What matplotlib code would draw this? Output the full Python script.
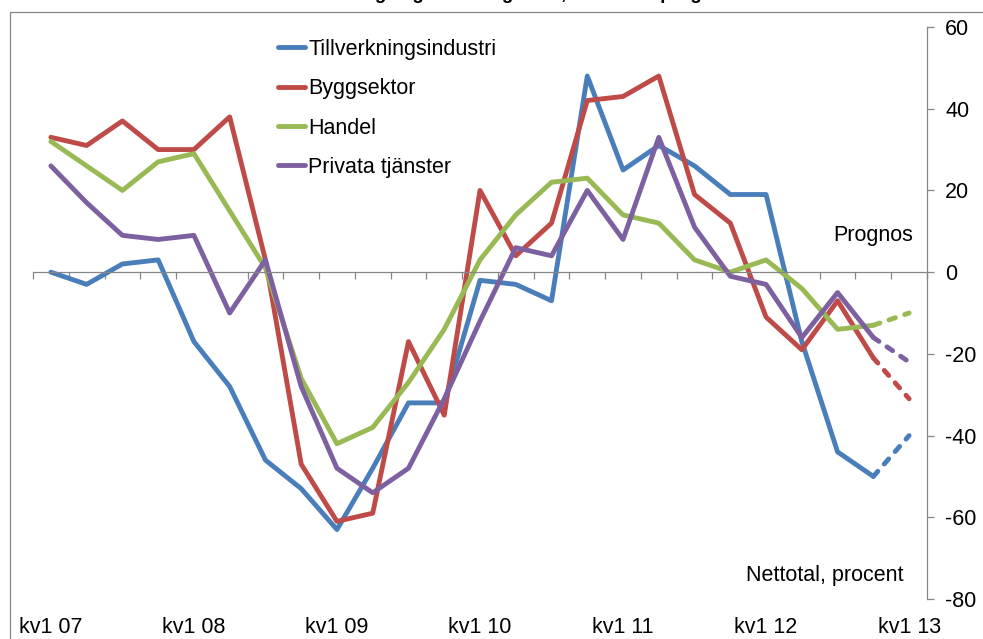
import matplotlib
matplotlib.use('Agg')
import matplotlib.pyplot as plt
from matplotlib.patches import Rectangle
import numpy as np

plt.rcParams['font.family'] = ['Liberation Sans', 'DejaVu Sans']
plt.rcParams['axes.unicode_minus'] = False

# quarterly net balances, kv1 07 .. kv1 13 (last point is the forecast)
tick_labels = ['kv1 07', 'kv1 08', 'kv1 09', 'kv1 10', 'kv1 11', 'kv1 12', 'kv1 13']
series_names = ['Tillverkningsindustri', 'Byggsektor', 'Handel', 'Privata tjänster']
tillverkning = [0, -3, 2, 3, -17, -28, -46, -53, -63, -48, -32, -32, -2, -3, -7,
                48, 25, 31, 26, 19, 19, -17, -44, -50, -40]
bygg = [33, 31, 37, 30, 30, 38, 3, -47, -61, -59, -17, -35, 20, 4, 12,
        42, 43, 48, 19, 12, -11, -19, -7, -21, -31]
handel = [32, 26, 20, 27, 29, 15, 1, -26, -42, -38, -27, -14, 3, 14, 22,
          23, 14, 12, 3, 0, 3, -4, -14, -13, -10]
privat = [26, 17, 9, 8, 9, -10, 3, -28, -48, -54, -48, -31, -12, 6, 4,
          20, 8, 33, 11, -1, -3, -16, -5, -16, -22]
colors = ['#4a7ebb', '#be4b48', '#98b954', '#7d60a0']
gray = '#868686'
fs = 15.5

W, H = 983, 639
fig = plt.figure(figsize=(W / 100, H / 100), dpi=100)
ax = fig.add_axes([33 / W, 1 - 599 / H, (927 - 33) / W, (599 - 27) / H])

x = np.arange(len(tillverkning))
for name, vals, c in zip(series_names, [tillverkning, bygg, handel, privat], colors):
    ax.plot(x[:-1], vals[:-1], color=c, lw=3.5, solid_capstyle='round',
            solid_joinstyle='round', label=name)
    ax.plot(x[-2:], vals[-2:], color=c, lw=3.5, ls=(0, (1.4, 2.0)),
            dash_capstyle='round')

ax.set_xlim(-0.5, len(x) - 0.5)
ax.set_ylim(-80, 60)

# axes: value axis on the right, category axis crossing at 0
for s in ['top', 'left']:
    ax.spines[s].set_visible(False)
ax.spines['right'].set_color(gray)
ax.spines['right'].set_linewidth(0.9)
ax.spines['bottom'].set_position(('data', 0))
ax.spines['bottom'].set_color(gray)
ax.spines['bottom'].set_linewidth(0.9)
ax.yaxis.tick_right()
ax.set_yticks(range(-80, 61, 20))
ax.tick_params(axis='y', length=5, width=0.9, color=gray, pad=8, labelsize=fs)
ax.set_xticks([])
ax.set_xticks(np.arange(-0.5, len(x), 1), minor=True)
ax.tick_params(axis='x', which='minor', length=5, width=0.9, color=gray)

sec = ax.secondary_xaxis(0)
sec.set_xticks(x[::4], tick_labels)
sec.tick_params(length=0, pad=13, labelsize=fs)
sec.spines['bottom'].set_visible(False)

ax.legend(loc='upper left', bbox_to_anchor=(278 / W, 1 - 39 / H),
          bbox_transform=fig.transFigure, frameon=False, fontsize=fs,
          handlelength=1.25, handletextpad=0.15, labelspacing=0.85,
          borderpad=0, borderaxespad=0)

ax.text(913 / W, 1 - 236 / H, 'Prognos', transform=fig.transFigure,
        ha='right', va='center', fontsize=fs)
ax.text(903 / W, 1 - 575 / H, 'Nettotal, procent', transform=fig.transFigure,
        ha='right', va='center', fontsize=fs)

# chart frame and the title that is cut by the top edge
fig.add_artist(Rectangle((10 / W, -0.1), 1, 1.1 - 12.5 / H, transform=fig.transFigure,
                         fill=False, ec=gray, lw=0.9))
fig.text(735 / W, 1 + 1 / H, 'Efterfrågeläget i näringslivet, utfall och prognos',
         ha='right', va='baseline', fontsize=13.5, fontweight='bold')

fig.savefig('out.png', dpi=100)
